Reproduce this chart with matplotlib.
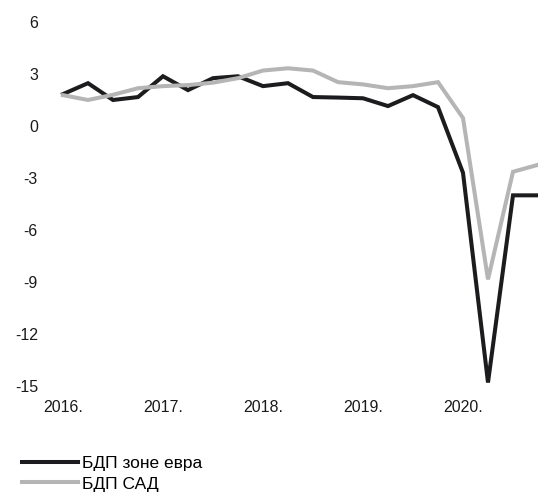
"""
    BDP zone evra i SAD, kvartalno, 2016-2020
"""
import numpy as np
import matplotlib.pyplot as plt

plt.rcParams['font.family'] = ['Liberation Sans', 'DejaVu Sans']
plt.rcParams['axes.unicode_minus'] = False

# kvartali od 2016 Q1 do 2020 Q4
quarters = [f"{y}Q{q}" for y in range(2016, 2021) for q in range(1, 5)]
euro_gdp = [1.84, 2.47, 1.5, 1.67, 2.87, 2.07, 2.76, 2.87, 2.3, 2.47,
            1.67, 1.64, 1.6, 1.15, 1.78, 1.09, -2.7, -14.8, -4.0, -4.0]
usa_gdp = [1.78, 1.5, 1.8, 2.18, 2.3, 2.36, 2.5, 2.76, 3.2, 3.33,
           3.2, 2.53, 2.4, 2.18, 2.3, 2.53, 0.46, -8.85, -2.64, -2.24]
year_labels = ["2016.", "2017.", "2018.", "2019.", "2020."]
y_ticks = [6, 3, 0, -3, -6, -9, -12, -15]

x = np.arange(len(quarters))

fig = plt.figure(figsize=(5.38, 4.98), dpi=100)
ax = fig.add_axes([63 / 538, 112 / 498, 475 / 538, 364 / 498])

ax.plot(x, euro_gdp, color='#1c1c1e', lw=2.9, label="БДП зоне евра",
        solid_joinstyle='miter', clip_on=False)
ax.plot(x, usa_gdp, color='#b5b5b5', lw=2.9, label="БДП САД",
        solid_joinstyle='miter', clip_on=False)

ax.set_xlim(0, len(quarters) - 1)
ax.set_ylim(-15, 6)
ax.set_xticks(x[::4])
ax.set_xticklabels(year_labels)
ax.set_yticks(y_ticks)
ax.tick_params(axis='both', length=0, labelsize=11.5, colors='#1a1a1a')
ax.tick_params(axis='y', pad=18)
ax.tick_params(axis='x', pad=10)
for s in ax.spines.values():
    s.set_visible(False)

fig.legend(loc='upper left', bbox_to_anchor=(22 / 538, 42 / 498),
           frameon=False, fontsize=12.5, handlelength=3.2, handletextpad=0.25,
           labelspacing=0.3, borderpad=0, borderaxespad=0)

plt.savefig("out.png", dpi=100)
